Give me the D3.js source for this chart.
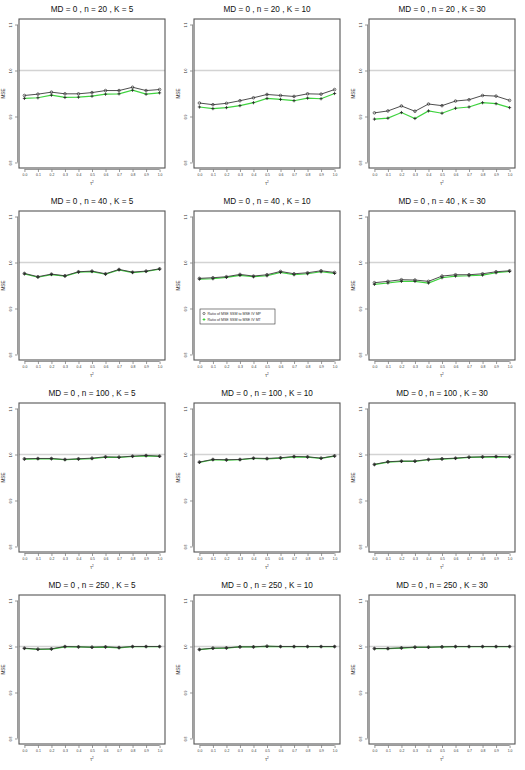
<!DOCTYPE html>
<html><head><meta charset="utf-8">
<script src="https://cdn.jsdelivr.net/npm/d3@7"></script>
<style>body{margin:0;background:#fff}svg{display:block}text{font-family:"Liberation Sans",Arial,sans-serif}</style>
</head><body>
<script>
const tau2 = [0.0,0.1,0.2,0.3,0.4,0.5,0.6,0.7,0.8,0.9,1.0];
const xTickLabels = ["0.0","0.1","0.2","0.3","0.4","0.5","0.6","0.7","0.8","0.9","1.0"];
const yTicks = [0.8,0.9,1.0,1.1];
const yTickLabels = ["0.8","0.9","1.0","1.1"];
const sampleSizes = [20,40,100,250];
const Ks = [5,10,30];
const legendLabels = ["Ratio of MSE SSM to MSE IV MP","Ratio of MSE SSM to MSE IV MT"];

// MP series (circles) and MT series (plus)
const mp_n20_k5  = [0.9457,0.9486,0.9529,0.9493,0.9493,0.9520,0.9564,0.9564,0.9636,0.9564,0.9586];
const mt_n20_k5  = [0.9393,0.9407,0.9464,0.9414,0.9421,0.9443,0.9486,0.9493,0.9571,0.9486,0.9514];
const mp_n20_k10 = [0.9293,0.9257,0.9286,0.9343,0.9407,0.9479,0.9457,0.9436,0.9493,0.9486,0.9586];
const mt_n20_k10 = [0.9207,0.9171,0.9193,0.9236,0.9300,0.9393,0.9371,0.9343,0.9400,0.9386,0.9500];
const mp_n20_k30 = [0.9079,0.9121,0.9229,0.9114,0.9271,0.9236,0.9336,0.9364,0.9457,0.9443,0.9350];
const mt_n20_k30 = [0.8943,0.8964,0.9086,0.8957,0.9121,0.9071,0.9179,0.9207,0.9300,0.9279,0.9193];
const mp_n40_k5  = [0.9763,0.9691,0.9748,0.9712,0.9799,0.9813,0.9755,0.9849,0.9791,0.9813,0.9863];
const mt_n40_k5  = [0.9753,0.9680,0.9738,0.9702,0.9790,0.9803,0.9745,0.9840,0.9781,0.9805,0.9855];
const mp_n40_k10 = [0.9655,0.9669,0.9691,0.9741,0.9705,0.9734,0.9806,0.9755,0.9777,0.9820,0.9784];
const mt_n40_k10 = [0.9640,0.9647,0.9676,0.9719,0.9690,0.9712,0.9784,0.9734,0.9755,0.9799,0.9763];
const mp_n40_k30 = [0.9561,0.9590,0.9626,0.9619,0.9590,0.9705,0.9734,0.9734,0.9755,0.9799,0.9820];
const mt_n40_k30 = [0.9525,0.9554,0.9590,0.9590,0.9554,0.9669,0.9705,0.9712,0.9727,0.9777,0.9806];
const mp_n100_k5  = [0.9907,0.9914,0.9914,0.9893,0.9907,0.9921,0.9950,0.9943,0.9964,0.9979,0.9964];
const mt_n100_k5  = [0.9900,0.9907,0.9907,0.9886,0.9900,0.9910,0.9940,0.9936,0.9957,0.9972,0.9960];
const mp_n100_k10 = [0.9836,0.9893,0.9886,0.9893,0.9921,0.9914,0.9929,0.9957,0.9950,0.9921,0.9971];
const mt_n100_k10 = [0.9829,0.9886,0.9879,0.9886,0.9914,0.9905,0.9922,0.9950,0.9943,0.9914,0.9964];
const mp_n100_k30 = [0.9786,0.9843,0.9857,0.9857,0.9893,0.9907,0.9921,0.9943,0.9950,0.9957,0.9950];
const mt_n100_k30 = [0.9779,0.9836,0.9850,0.9850,0.9886,0.9900,0.9914,0.9936,0.9943,0.9950,0.9945];
const mp_n250_k5  = [0.9964,0.9943,0.9950,1.0000,0.9993,0.9986,0.9993,0.9979,1.0000,1.0000,1.0000];
const mt_n250_k5  = [0.9957,0.9936,0.9943,0.9993,0.9990,0.9980,0.9988,0.9972,0.9996,0.9998,0.9998];
const mp_n250_k10 = [0.9936,0.9964,0.9971,0.9993,0.9993,1.0007,1.0000,1.0000,1.0000,1.0000,1.0000];
const mt_n250_k10 = [0.9932,0.9960,0.9966,0.9990,0.9990,1.0002,0.9997,0.9997,0.9997,0.9997,0.9998];
const mp_n250_k30 = [0.9957,0.9957,0.9971,0.9986,0.9986,0.9993,1.0000,1.0000,1.0000,1.0000,1.0000];
const mt_n250_k30 = [0.9952,0.9952,0.9966,0.9982,0.9982,0.9990,0.9996,0.9996,0.9997,0.9997,0.9998];

const mpSeries = [[mp_n20_k5,mp_n20_k10,mp_n20_k30],[mp_n40_k5,mp_n40_k10,mp_n40_k30],[mp_n100_k5,mp_n100_k10,mp_n100_k30],[mp_n250_k5,mp_n250_k10,mp_n250_k30]];
const mtSeries = [[mt_n20_k5,mt_n20_k10,mt_n20_k30],[mt_n40_k5,mt_n40_k10,mt_n40_k30],[mt_n100_k5,mt_n100_k10,mt_n100_k30],[mt_n250_k5,mt_n250_k10,mt_n250_k30]];

const W = 525, H = 770;
const svg = d3.select("body").append("svg").attr("width", W).attr("height", H);
const colW = 175, rowH = 192;
const pl = 19, pr = 165, pt = 19, pb = 168;

const x = d3.scaleLinear().domain([-0.04, 1.04]).range([pl, pr]);
const y = d3.scaleLinear().domain([0.788, 1.112]).range([pb, pt]);
const frameCol = "#555";

sampleSizes.forEach((n, r) => {
  Ks.forEach((K, c) => {
    const g = svg.append("g").attr("transform", `translate(${c*colW},${r*rowH})`);
    g.append("line").attr("x1", pl).attr("x2", pr).attr("y1", y(1)).attr("y2", y(1))
      .attr("stroke", "#d3d3d3").attr("stroke-width", 1.3);
    g.append("text").attr("x", (pl+pr)/2).attr("y", 12).attr("text-anchor", "middle")
      .attr("font-size", 8.2).attr("fill", "#111").text(`MD = 0 , n = ${n} , K = ${K}`);
    const xa = d3.axisBottom(x).tickValues(tau2).tickFormat((d,i) => xTickLabels[i]).tickSize(2.5).tickPadding(2);
    const xg = g.append("g").attr("transform", `translate(0,${pb+1.5})`).call(xa);
    xg.select(".domain").attr("d", `M${x(0)},0H${x(1)}`).attr("stroke", frameCol).attr("stroke-width", 0.6);
    xg.selectAll(".tick line").attr("stroke", frameCol).attr("stroke-width", 0.6);
    xg.selectAll("text").attr("font-size", 3.4).attr("fill", "#333").attr("font-family", "Liberation Sans, Arial, sans-serif");
    const ya = d3.axisLeft(y).tickValues(yTicks).tickFormat((d,i) => yTickLabels[i]).tickSize(2.5).tickPadding(2);
    const yg = g.append("g").attr("transform", `translate(${pl-1.5},0)`).call(ya);
    yg.select(".domain").attr("d", `M0,${y(0.8)}V${y(1.1)}`).attr("stroke", frameCol).attr("stroke-width", 0.6);
    yg.selectAll(".tick line").attr("stroke", frameCol).attr("stroke-width", 0.6);
    yg.selectAll("text").attr("font-size", 3.4).attr("fill", "#333").attr("font-family", "Liberation Sans, Arial, sans-serif")
      .attr("text-anchor", "middle").attr("x", 0).attr("dy", 0)
      .attr("transform", "translate(-6,0) rotate(-90)");
    const xl = g.append("text").attr("x", (pl+pr)/2).attr("y", 184.5).attr("text-anchor", "middle")
      .attr("font-size", 4.5).attr("fill", "#333");
    xl.append("tspan").text("τ");
    xl.append("tspan").attr("dy", -1.5).attr("font-size", 3).text("2");
    g.append("text").attr("transform", `translate(5,${(pt+pb)/2}) rotate(-90)`).attr("text-anchor", "middle")
      .attr("font-size", 4.6).attr("fill", "#333").text("MSE");

    const line = d3.line().x((d,i) => x(tau2[i])).y(d => y(d));
    const mp = mpSeries[r][c], mt = mtSeries[r][c];
    g.append("path").datum(mt).attr("d", line).attr("fill", "none").attr("stroke", "#3fd33f").attr("stroke-width", 1.2);
    g.append("path").datum(mp).attr("d", line).attr("fill", "none").attr("stroke", "#3a3a3a").attr("stroke-width", 0.9);
    g.selectAll("circle.mp").data(mp).join("circle").attr("class", "mp")
      .attr("cx", (d,i) => x(tau2[i])).attr("cy", d => y(d)).attr("r", 1.3)
      .attr("fill", "none").attr("stroke", "#333").attr("stroke-width", 0.7);
    g.selectAll("path.mt").data(mt).join("path").attr("class", "mt")
      .attr("d", (d,i) => { const cx = x(tau2[i]), cy = y(d); return `M${cx-1.6},${cy}H${cx+1.6}M${cx},${cy-1.6}V${cy+1.6}`; })
      .attr("stroke", "#222").attr("stroke-width", 0.8);
    g.append("rect").attr("x", pl).attr("y", pt).attr("width", pr-pl).attr("height", pb-pt)
      .attr("fill", "none").attr("stroke", frameCol).attr("stroke-width", 1.1);

    if (r === 1 && c === 1) {
      const lg = g.append("g").attr("transform", `translate(25,117)`);
      lg.append("rect").attr("x", 0).attr("y", 0).attr("width", 75).attr("height", 15)
        .attr("fill", "#fff").attr("stroke", "#333").attr("stroke-width", 0.6);
      lg.append("circle").attr("cx", 4).attr("cy", 4.5).attr("r", 1.1).attr("fill", "none").attr("stroke", "#333").attr("stroke-width", 0.6);
      lg.append("path").attr("d", "M2.6,10.5H5.4M4,9.1V11.9").attr("stroke", "#2c2").attr("stroke-width", 0.8);
      legendLabels.forEach((t, i) => {
        lg.append("text").attr("x", 7.5).attr("y", 5.8 + i*6).attr("font-size", 3.6).attr("fill", "#333").text(t);
      });
    }
  });
});
</script>
</body></html>
